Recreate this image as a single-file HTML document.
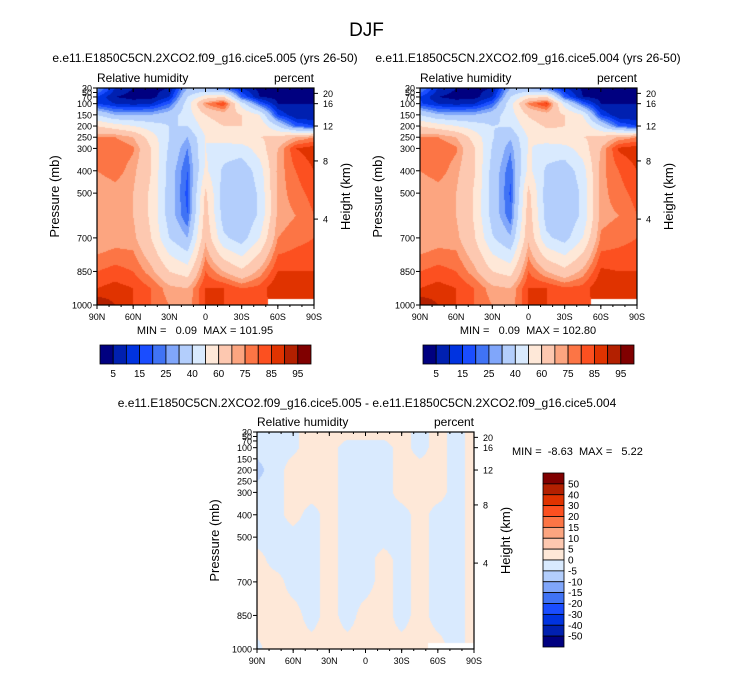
<!DOCTYPE html>
<html><head><meta charset="utf-8">
<style>
body{margin:0;background:#fff;}
#root{position:relative;width:733px;height:673px;overflow:hidden;background:#fff;font-family:"Liberation Sans",sans-serif;color:#000;}
.t{position:absolute;white-space:nowrap;}
canvas{position:absolute;}
svg{position:absolute;left:0;top:0;}
svg text{white-space:pre;}
</style></head>
<body>
<div id="root">
<div class="t" style="left:0;width:733px;text-align:center;top:20px;font-size:19px;">DJF</div>
<svg id="ov" width="733" height="673"></svg>
</div>
<script>
// ---- data ----
const lats = [90,75,60,45,30,15,0,-15,-30,-45,-60,-75,-90];
const levelsA = [30,70,100,150,200,250,300,400,500,600,700,850,925,1000];
// rows = latitude, cols = pressure level (case 005)
const rhA = [
 [28,15,15,40,60,75,80,75,70,70,70,80,85,95],
 [10,5,10,30,55,75,80,78,72,70,72,82,87,90],
 [5,3,8,30,50,70,76,72,70,70,72,80,85,85],
 [3,3,10,30,45,55,60,60,58,58,60,72,80,80],
 [5,10,20,35,40,40,38,35,35,35,40,60,72,75],
 [30,40,45,45,40,30,25,20,18,20,30,55,70,72],
 [30,55,75,60,55,50,50,52,62,65,68,80,85,85],
 [20,60,85,65,60,55,45,38,35,35,42,70,85,85],
 [10,20,45,60,60,58,45,33,30,30,35,62,80,82],
 [3,5,20,50,58,60,55,45,42,42,50,72,82,82],
 [3,3,5,15,40,62,70,72,72,72,75,85,90,88],
 [3,3,5,5,20,70,85,80,78,75,78,85,88,86],
 [3,3,5,5,15,75,88,85,82,80,80,85,85,85]
];
// case 004
const rhB = [
 [27,15,16,40,60,75,80,75,70,70,70,80,85,95],
 [10,5,10,31,55,75,80,78,72,70,72,82,87,90],
 [5,3,8,30,50,70,76,72,70,70,72,80,85,85],
 [3,3,10,30,45,56,61,61,59,59,61,72,80,80],
 [5,10,20,35,40,41,39,36,36,36,41,60,72,75],
 [30,40,46,46,41,31,26,21,19,21,31,56,70,72],
 [30,56,76,61,56,51,51,53,63,66,68,80,85,85],
 [20,60,86,66,61,56,45,38,35,35,42,70,85,85],
 [10,20,45,60,60,58,46,34,31,31,36,63,81,82],
 [4,5,20,50,58,60,55,45,42,42,50,72,82,82],
 [3,3,5,15,40,62,70,73,73,73,76,86,90,88],
 [3,3,5,5,20,71,86,80,78,75,78,85,88,86],
 [3,3,5,5,15,75,88,85,82,80,80,85,85,85]
];
const levelsD = [30,100,200,300,400,500,600,700,850,1000];
const rhDiff = [
 [-2,-3,-7,-3,-2,-2,2,2,2,-1],
 [-2,-2,-2,-2,-2,-2,-2,2,2,2],
 [-1,-1,2,2,2,-2,-2,-2,2,2],
 [2,2,2,2,-2,-2,-2,-2,-2,2],
 [2,2,2,2,2,2,2,2,2,2],
 [2,-2,-2,-2,-2,-2,-2,-2,-2,2],
 [2,-2,-2,-2,-2,-2,-2,-2,2,2],
 [2,-2,-2,-2,-2,-2,2,2,2,2],
 [2,2,2,2,-2,-2,-2,-2,-2,2],
 [-2,-2,2,2,2,2,2,2,2,2],
 [2,2,2,2,-2,-2,-2,-2,-2,2],
 [-2,-2,-2,-2,-2,-2,-2,-2,-2,-2],
 [2,2,2,2,2,2,2,2,2,2]
];
const contourA = [5,10,15,20,25,30,40,50,60,70,75,80,85,90,95];
const contourD = [-50,-40,-30,-20,-15,-10,-5,0,5,10,15,20,30,40,50];
const cbLabelsA = ["5","15","25","40","60","75","85","95"];
const cbLabelsD = ["50","40","30","20","15","10","5","0","-5","-10","-15","-20","-30","-40","-50"];
const pTicks = [30,50,70,100,150,200,250,300,400,500,700,850,1000];
const hTicks = [[20,54],[16,100],[12,200],[8,356],[4,616]]; // km, pressure-equivalent
const xTicks = ["90N","60N","30N","0","30S","60S","90S"];
const palette = ["#000080","#0020b0","#0033e0","#1a4dff","#4073f5","#80a6fa","#b3cefc","#d9eafe","#fee8d8","#fdc8b0","#fca580","#fc7545","#fc5020","#e03300","#b32000","#800000"];

const NS='http://www.w3.org/2000/svg';
const ov=document.getElementById('ov');
const root=document.getElementById('root');
function hex(c){return [parseInt(c.substr(1,2),16),parseInt(c.substr(3,2),16),parseInt(c.substr(5,2),16)];}
const palRGB=palette.map(hex);
function txt(x,y,s,size,anchor,name){
  const t=document.createElementNS(NS,'text');
  t.setAttribute('x',x);t.setAttribute('y',y);t.setAttribute('font-size',size);
  t.setAttribute('font-family','Liberation Sans, sans-serif');
  t.setAttribute('text-anchor',anchor||'start');
  
  
  t.textContent=s;ov.appendChild(t);return t;
}
function line(x1,y1,x2,y2,name,w){
  const l=document.createElementNS(NS,'line');
  l.setAttribute('x1',x1);l.setAttribute('y1',y1);l.setAttribute('x2',x2);l.setAttribute('y2',y2);
  l.setAttribute('stroke','#000');l.setAttribute('stroke-width',w||1);
  
  
  ov.appendChild(l);
}
function rect(x,y,w,h,fill,name){
  const r=document.createElementNS(NS,'rect');
  r.setAttribute('x',x);r.setAttribute('y',y);r.setAttribute('width',w);r.setAttribute('height',h);
  r.setAttribute('fill',fill);r.setAttribute('stroke','#000');r.setAttribute('stroke-width',0.8);
  
  
  ov.appendChild(r);
}
function interp(grid,levs,lat,p){
  let fi=(90-lat)/15; fi=Math.max(0,Math.min(lats.length-1.0001,fi));
  const i=Math.floor(fi),a=fi-i;
  let j=0; while(j<levs.length-2 && p>levs[j+1]) j++;
  let b=(p-levs[j])/(levs[j+1]-levs[j]); b=Math.max(0,Math.min(1,b));
  const v00=grid[i][j],v01=grid[i][j+1],v10=grid[i+1][j],v11=grid[i+1][j+1];
  return (v00*(1-a)+v10*a)*(1-b)+(v01*(1-a)+v11*a)*b;
}
function panel(ox,oy,grid,levs,contours,id,mask){
  const W=217,H=217;
  const yS=p=>oy+(p-30)/970*H;
  const c=document.createElement('canvas');
  c.width=W;c.height=H;c.style.left=ox+'px';c.style.top=oy+'px';
  
  
  root.insertBefore(c,ov);
  const ctx=c.getContext('2d');const img=ctx.createImageData(W,H);
  for(let y=0;y<H;y++){const p=30+(y+0.5)/H*970;
    for(let x=0;x<W;x++){const lat=90-(x+0.5)/W*180;
      const v=interp(grid,levs,lat,p);
      let k=0;while(k<contours.length&&v>=contours[k])k++;
      let col=palRGB[k];
      if(mask&&lat<-52&&p>975)col=[255,255,255];
      const o=(y*W+x)*4;img.data[o]=col[0];img.data[o+1]=col[1];img.data[o+2]=col[2];img.data[o+3]=255;}}
  ctx.putImageData(img,0,0);
  const fr=document.createElementNS(NS,'rect');
  fr.setAttribute('x',ox);fr.setAttribute('y',oy);fr.setAttribute('width',W);fr.setAttribute('height',H);
  fr.setAttribute('fill','none');fr.setAttribute('stroke','#000');fr.setAttribute('stroke-width',1.2);
  
  
  ov.appendChild(fr);
  pTicks.forEach(p=>{line(ox-4,yS(p),ox,yS(p),id+'-y-tick');
    txt(ox-5,yS(p)+3.5,String(p),9,'end',id+'-y-tick-label');});
  hTicks.forEach(h=>{line(ox+W,yS(h[1]),ox+W+4,yS(h[1]),id+'-height-tick');
    txt(ox+W+9,yS(h[1])+3.5,String(h[0]),9,'start',id+'-height-tick-label');});
  xTicks.forEach((s,i)=>{const x=ox+i*W/6;line(x,oy+H,x,oy+H+4,id+'-x-tick');line(x,oy,x,oy+4,id+'-top-tick');
    txt(x,oy+H+15,s,9,'middle',id+'-x-tick-label');});
  for(let i=1;i<18;i++){const x=ox+i*W/18;line(x,oy,x,oy+2,id+'-top-minor-tick');line(x,oy+H,x,oy+H+2,id+'-x-minor-tick');}
  txt(ox,oy-6,'Relative humidity',12,'start',id+'-variable-label');
  txt(ox+W,oy-6,'percent',12,'end',id+'-units-label');
  const yl=txt(0,0,'Pressure (mb)',13,'middle',id+'-y-axis-title');
  yl.setAttribute('transform','translate('+(ox-38)+','+(oy+H/2)+') rotate(-90)');
  const hl=txt(0,0,'Height (km)',13,'middle',id+'-height-axis-title');
  hl.setAttribute('transform','translate('+(ox+W+36)+','+(oy+H/2)+') rotate(-90)');
}
function hbar(x,y,w,h,labels,id){
  const n=palette.length,bw=w/n;
  palette.forEach((c,i)=>rect(x+i*bw,y,bw,h,c,id+'-box'));
  labels.forEach((s,i)=>txt(x+(2*i+1)*bw,y+h+13,s,10,'middle',id+'-label'));
}
function vbar(x,y,w,h,labels,id){
  const n=palette.length,bh=h/n;
  palette.slice().reverse().forEach((c,i)=>rect(x,y+i*bh,w,bh,c,id+'-box'));
  labels.forEach((s,i)=>txt(x+w+4,y+(i+1)*bh+3.5,s,10,'start',id+'-label'));
}
panel(97,88,rhA,levelsA,contourA,'left-panel',true);
panel(420,88,rhB,levelsA,contourA,'right-panel',true);
panel(257,432,rhDiff,levelsD,contourD,'diff-panel',true);
txt(205,62,'e.e11.E1850C5CN.2XCO2.f09_g16.cice5.005 (yrs 26-50)',12,'middle','left-panel-title');
txt(528,62,'e.e11.E1850C5CN.2XCO2.f09_g16.cice5.004 (yrs 26-50)',12,'middle','right-panel-title');
txt(367,407,'e.e11.E1850C5CN.2XCO2.f09_g16.cice5.005 - e.e11.E1850C5CN.2XCO2.f09_g16.cice5.004',12,'middle','diff-panel-title');
txt(205,334,'MIN =   0.09  MAX = 101.95',11,'middle','left-min-max');
txt(528,334,'MIN =   0.09  MAX = 102.80',11,'middle','right-min-max');
txt(512,455,'MIN =  -8.63  MAX =   5.22',11,'start','diff-min-max');
hbar(100,345,211,19,cbLabelsA,'left-colorbar');
hbar(423,345,211,19,cbLabelsA,'right-colorbar');
vbar(543,473,21,174,cbLabelsD,'diff-colorbar');
</script>
</body></html>
